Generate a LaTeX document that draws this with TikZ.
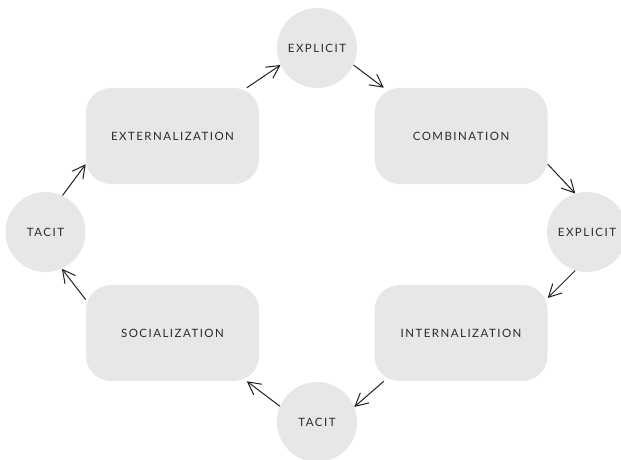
\documentclass[tikz,border=0pt]{standalone}
\usepackage{fontspec}
\usepackage{tikz}
\usetikzlibrary{arrows.meta}
\newfontfamily\lblfont[LetterSpace=13]{Lato}
\definecolor{fillgray}{HTML}{E6E7E8}
\definecolor{txtgray}{HTML}{2B2B2D}
\definecolor{arrowblack}{HTML}{231F20}

\begin{document}
\begin{tikzpicture}[x=0.75pt,y=-0.75pt,
        circ/.style = {circle, fill=fillgray, inner sep=0pt, minimum size=60pt, text=txtgray, font=\lblfont\fontsize{8.6}{10}\selectfont},
        box/.style = {rectangle, rounded corners=18.75pt, fill=fillgray, inner sep=0pt, minimum width=129.75pt, minimum height=72pt, text=txtgray, font=\lblfont\fontsize{8.6}{10}\selectfont},
        arr/.style = {draw=arrowblack, line width=0.75pt, -{Straight Barb[length=9.5pt,width=10pt]}}]
        \clip (0,0) rectangle (621,460);
        \node[circ] (explA) at (317,48) {EXPLICIT};
        \node[circ] (explB) at (587,232) {EXPLICIT};
        \node[circ] (tacitA) at (45.5,232) {TACIT};
        \node[circ] (tacitB) at (317,422) {TACIT};
        \node[box] (ext) at (172.5,136) {EXTERNALIZATION};
        \node[box] (comb) at (461,136) {COMBINATION};
        \node[box] (soc) at (172.5,333) {SOCIALIZATION};
        \node[box] (intern) at (461,333) {INTERNALIZATION};
        \draw[arr] (tacitA.65) -- (ext.198);
        \draw[arr] (ext.33) -- (explA.205);
        \draw[arr] (explA.335) -- (comb.148);
        \draw[arr] (comb.342) -- (explB.107);
        \draw[arr] (explB.253) -- (intern.22);
        \draw[arr] (intern.212) -- (tacitB.22);
        \draw[arr] (tacitB.157) -- (soc.327);
        \draw[arr] (soc.159) -- (tacitA.294);
\end{tikzpicture}
\end{document}
